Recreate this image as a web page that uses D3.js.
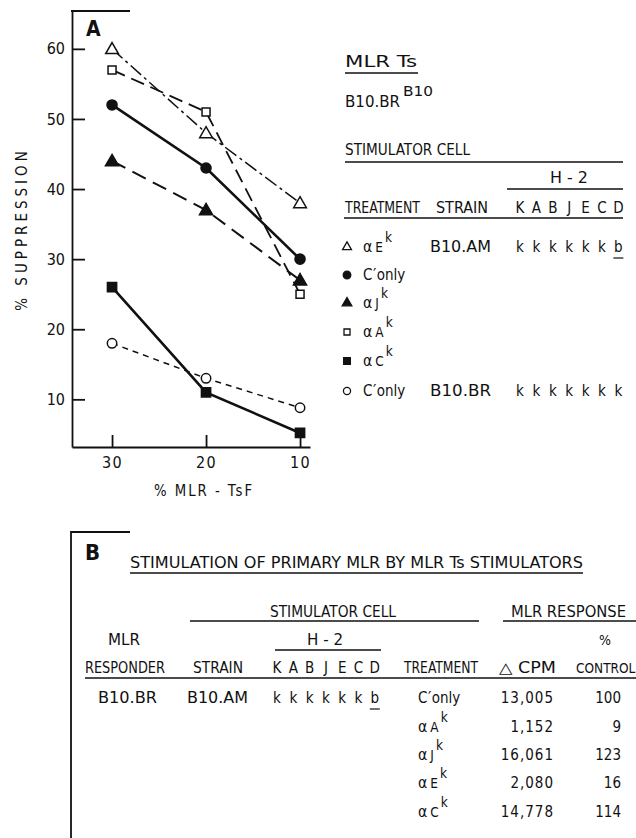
<!DOCTYPE html>
<html><head><meta charset="utf-8">
<script src="https://cdn.jsdelivr.net/npm/d3@7"></script>
<style>
body{margin:0;background:#fff;}
svg text{font-family:"Liberation Sans Narrow","DejaVu Sans Condensed","Liberation Sans",sans-serif;fill:#111;}
</style></head><body>
<svg id="c" width="636" height="838"></svg>
<script>
// ---------- DATA ----------
const xValues = [30, 20, 10];
const yTickValues = [10, 20, 30, 40, 50, 60];
const aEk = [60, 48, 38];        // open triangle, dash-dot
const cOnlyAM = [52, 43, 30];    // filled circle, solid
const aJk = [44, 37, 27];        // filled triangle, long dash
const aAk = [57, 51, 25];        // open square, long dash
const aCk = [26, 11, 5.2];       // filled square, solid
const cOnlyBR = [18, 13, 8.8];   // open circle, short dash
const legendTreatments = ["αE^k", "C′only", "αJ^k", "αA^k", "αC^k", "C′only"];
const legendStrains = ["B10.AM", "", "", "", "", "B10.BR"];
const legendH2 = [["k","k","k","k","k","k","b"], [], [], [], [], ["k","k","k","k","k","k","k"]];
const h2Loci = ["K","A","B","J","E","C","D"];

const bTreatments = ["C′only", "αA^k", "αJ^k", "αE^k", "αC^k"];
const bCpm = ["13,005", "1,152", "16,061", "2,080", "14,778"];
const bPctControl = ["100", "9", "123", "16", "114"];
const bResponder = "B10.BR";
const bStrain = "B10.AM";
const bH2 = ["k","k","k","k","k","k","b"];

// ---------- SETUP ----------
const svg = d3.select("#c");
const INK = "#111";

function txt(g, x, y, s, o = {}) {
  const t = g.append("text").attr("x", x).attr("y", y).text(s)
    .attr("font-size", o.size || 15)
    .attr("text-anchor", o.anchor || "start");
  if (o.len) t.attr("textLength", o.len).attr("lengthAdjust", "spacingAndGlyphs");
  if (o.weight) t.attr("font-weight", o.weight);
  return t;
}
function hline(g, x1, x2, y, w = 1.3) {
  g.append("line").attr("x1", x1).attr("x2", x2).attr("y1", y).attr("y2", y)
    .attr("stroke", INK).attr("stroke-width", w);
}
// treatment label: "αE^k" -> α E superscript k ; "C′only"
function treatment(g, x, y, s, size) {
  const t = g.append("text").attr("x", x).attr("y", y).attr("font-size", size);
  if (s.startsWith("C′")) {
    t.append("tspan").text("C");
    t.append("tspan").text("′").attr("dx", 0.5).attr("font-size", size * 1.1);
    t.append("tspan").text("only").attr("dx", 0.5);
  } else {
    const [main, sup] = s.split("^");
    t.append("tspan").text(main[0]).attr("font-size", size * 1.05);
    t.append("tspan").text(main.slice(1)).attr("dx", 3).attr("font-size", size * 0.9);
    t.append("tspan").text(sup).attr("dx", 2).attr("dy", -10).attr("font-size", size * 0.9);
  }
  return t;
}

// ---------- PANEL A ----------
const A = svg.append("g");
const x = d3.scaleLinear().domain([34.26, 8.94]).range([72, 310]);
const y = d3.scaleLinear().domain([3.2, 65.4]).range([447, 11]);

const yAxis = A.append("g").attr("transform", "translate(72,0)")
  .call(d3.axisLeft(y).tickValues(yTickValues).tickSizeInner(-13).tickSizeOuter(0).tickPadding(7));
const xAxis = A.append("g").attr("transform", "translate(0,447)")
  .call(d3.axisBottom(x).tickValues(xValues).tickSizeInner(-12).tickSizeOuter(0).tickPadding(10));
[yAxis, xAxis].forEach(ax => {
  ax.selectAll("path, line").attr("stroke", INK).attr("stroke-width", 1.8);
  ax.selectAll("text").attr("font-size", 16).attr("fill", INK)
    .attr("font-family", '"Liberation Sans Narrow","DejaVu Sans Condensed",sans-serif');
});
xAxis.selectAll("text").attr("letter-spacing", 1.5);
hline(A, 71, 130, 11, 1.8);
txt(A, 86, 36, "A", {size: 21, weight: "bold"}).attr("font-family", "Liberation Sans, Arial, sans-serif");

// axis titles
A.append("text").attr("transform", "translate(27,229) rotate(-90)")
  .attr("text-anchor", "middle").attr("font-size", 15).attr("letter-spacing", 4)
  .text("% SUPPRESSION");
txt(A, 204, 496, "% MLR - TsF", {size: 15, anchor: "middle", len: 100}).attr("letter-spacing", 2);

// series
const series = [
  {v: aEk, shape: d3.symbolTriangle, fill: false, dash: "14,4,3,4", w: 1.5, size: 70},
  {v: aAk, shape: d3.symbolSquare, fill: false, dash: "14,7", w: 1.8, size: 64},
  {v: cOnlyAM, shape: d3.symbolCircle, fill: true, dash: null, w: 2.6, size: 80},
  {v: aJk, shape: d3.symbolTriangle, fill: true, dash: "15,8", w: 2, size: 75},
  {v: aCk, shape: d3.symbolSquare, fill: true, dash: null, w: 2.6, size: 85},
  {v: cOnlyBR, shape: d3.symbolCircle, fill: false, dash: "6,5", w: 1.5, size: 70}
];
const line = d3.line().x((d, i) => x(xValues[i])).y(d => y(d));
series.forEach(s => {
  A.append("path").datum(s.v).attr("d", line).attr("fill", "none")
    .attr("stroke", INK).attr("stroke-width", s.w)
    .attr("stroke-dasharray", s.dash);
});
series.forEach(s => {
  A.selectAll(null).data(s.v).enter().append("path")
    .attr("transform", (d, i) => `translate(${x(xValues[i])},${y(d) + (s.shape === d3.symbolTriangle ? 1 : 0)})`)
    .attr("d", d3.symbol().type(s.shape).size(s.size))
    .attr("fill", s.fill ? INK : "#fff").attr("stroke", INK).attr("stroke-width", 1.5);
});

// legend / table in panel A
const L = svg.append("g");
txt(L, 345, 67, "MLR  Ts", {size: 15, len: 72});
hline(L, 345, 418, 73);
txt(L, 345, 107, "B10.BR", {size: 15, len: 55});
txt(L, 403, 96, "B10", {size: 14, len: 30});
txt(L, 345, 155, "STIMULATOR CELL", {size: 15, len: 125});
hline(L, 345, 623, 162);
txt(L, 569, 183, "H - 2", {size: 15, anchor: "middle", len: 38});
hline(L, 507, 623, 189);
txt(L, 345, 213, "TREATMENT", {size: 15, len: 75});
txt(L, 436, 213, "STRAIN", {size: 15, len: 52});
const aLocX = i => 520 + i * 16.4;
L.selectAll(null).data(h2Loci).enter().append("text")
  .attr("x", (d, i) => aLocX(i)).attr("y", 213).attr("text-anchor", "middle")
  .attr("font-size", 15).text(d => d);
hline(L, 344, 623, 218);

const rowY = [252, 280, 308, 337, 366, 396];
const legendShapes = [
  {shape: d3.symbolTriangle, fill: false, size: 34},
  {shape: d3.symbolCircle, fill: true, size: 45},
  {shape: d3.symbolTriangle, fill: true, size: 40},
  {shape: d3.symbolSquare, fill: false, size: 36},
  {shape: d3.symbolSquare, fill: true, size: 45},
  {shape: d3.symbolCircle, fill: false, size: 40}
];
legendTreatments.forEach((t, i) => {
  const sh = legendShapes[i];
  L.append("path").attr("transform", `translate(347,${rowY[i] - 5})`)
    .attr("d", d3.symbol().type(sh.shape).size(sh.size))
    .attr("fill", sh.fill ? INK : "#fff").attr("stroke", INK).attr("stroke-width", 1.3);
  treatment(L, 363, rowY[i], t, 15);
  if (legendStrains[i]) txt(L, 430, rowY[i], legendStrains[i], {size: 15, len: 61});
  legendH2[i].forEach((k, j) => {
    txt(L, aLocX(j), rowY[i], k, {size: 15, anchor: "middle"});
    if (k === "b") hline(L, aLocX(j) - 5, aLocX(j) + 5, rowY[i] + 6, 1.2);
  });
});

// ---------- PANEL B ----------
const B = svg.append("g");
B.append("path").attr("d", "M130,532H71V838").attr("fill", "none")
  .attr("stroke", INK).attr("stroke-width", 1.8);
txt(B, 85, 560, "B", {size: 22, weight: "bold"}).attr("font-family", "Liberation Sans, Arial, sans-serif");
txt(B, 130, 568, "STIMULATION OF PRIMARY MLR BY MLR  Ts  STIMULATORS", {size: 15, len: 453});
hline(B, 130, 583, 573);
txt(B, 270, 617, "STIMULATOR CELL", {size: 15, len: 126});
hline(B, 190, 479, 621);
txt(B, 511, 617, "MLR  RESPONSE", {size: 15, len: 115});
hline(B, 503, 636, 621);
txt(B, 108, 645, "MLR", {size: 15, len: 32});
txt(B, 325, 645, "H - 2", {size: 15, anchor: "middle", len: 36});
hline(B, 275, 381, 650);
txt(B, 605, 645, "%", {size: 14, anchor: "middle"});
txt(B, 85, 673, "RESPONDER", {size: 15, len: 80});
txt(B, 193, 673, "STRAIN", {size: 15, len: 50});
const bLocX = i => 277 + i * 16.3;
B.selectAll(null).data(h2Loci).enter().append("text")
  .attr("x", (d, i) => bLocX(i)).attr("y", 673).attr("text-anchor", "middle")
  .attr("font-size", 15).text(d => d);
txt(B, 404, 673, "TREATMENT", {size: 15, len: 74});
txt(B, 499, 673, "△ CPM", {size: 15, len: 57});
txt(B, 576, 673, "CONTROL", {size: 13.5});
hline(B, 85, 636, 678);

const bRowY = [703, 732, 760, 788, 817];
txt(B, 98, bRowY[0], bResponder, {size: 15, len: 59});
txt(B, 187, bRowY[0], bStrain, {size: 15, len: 61});
bH2.forEach((k, j) => {
  txt(B, bLocX(j), bRowY[0], k, {size: 15, anchor: "middle"});
  if (k === "b") hline(B, bLocX(j) - 5, bLocX(j) + 5, bRowY[0] + 6, 1.2);
});
bTreatments.forEach((t, i) => {
  treatment(B, 418, bRowY[i], t, 15);
  txt(B, 554, bRowY[i], bCpm[i], {size: 15, anchor: "end"}).attr("letter-spacing", 1);
  txt(B, 621, bRowY[i], bPctControl[i], {size: 15, anchor: "end"});
});
</script>
</body></html>
